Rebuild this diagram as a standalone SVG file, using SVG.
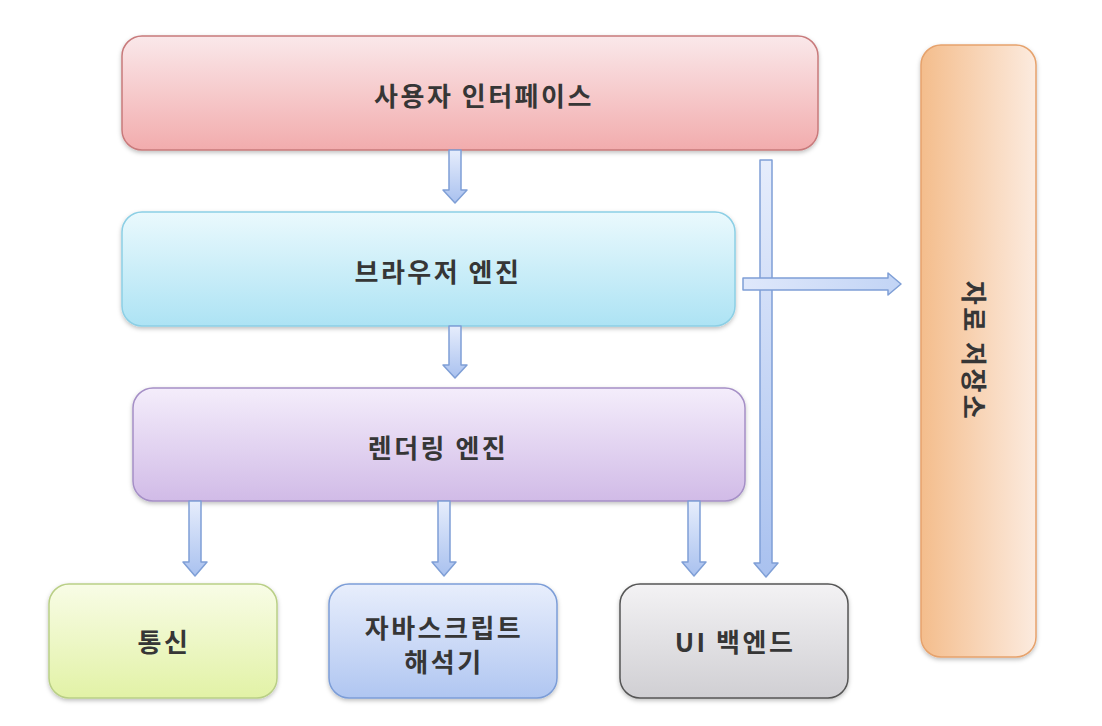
<svg xmlns="http://www.w3.org/2000/svg" width="1102" height="726" viewBox="0 0 1102 726">
<defs>
<linearGradient id="gRed" x1="0" y1="0" x2="0" y2="1"><stop offset="0" stop-color="#fae8ea"/><stop offset="1" stop-color="#f2acad"/></linearGradient>
<linearGradient id="gCyan" x1="0" y1="0" x2="0" y2="1"><stop offset="0" stop-color="#eaf9fd"/><stop offset="1" stop-color="#ade3f4"/></linearGradient>
<linearGradient id="gPurple" x1="0" y1="0" x2="0" y2="1"><stop offset="0" stop-color="#f4edfb"/><stop offset="1" stop-color="#d1bbe7"/></linearGradient>
<linearGradient id="gGreen" x1="0" y1="0" x2="0" y2="1"><stop offset="0" stop-color="#f8fce6"/><stop offset="1" stop-color="#e2f2a6"/></linearGradient>
<linearGradient id="gBlue" x1="0" y1="0" x2="0" y2="1"><stop offset="0" stop-color="#e8eefc"/><stop offset="1" stop-color="#b0c6f1"/></linearGradient>
<linearGradient id="gGray" x1="0" y1="0" x2="0" y2="1"><stop offset="0" stop-color="#f3f2f4"/><stop offset="1" stop-color="#d0cfd3"/></linearGradient>
<linearGradient id="gOrange" x1="0" y1="0" x2="1" y2="0"><stop offset="0" stop-color="#f4bd8c"/><stop offset="1" stop-color="#fcebdf"/></linearGradient>
<linearGradient id="gArrowV" x1="0" y1="0" x2="0" y2="1"><stop offset="0" stop-color="#e6edfc"/><stop offset="1" stop-color="#a9c1ef"/></linearGradient>
<linearGradient id="gArrowH" x1="0" y1="0" x2="1" y2="0"><stop offset="0" stop-color="#dfe8fb"/><stop offset="1" stop-color="#c2d4f5"/></linearGradient>
<filter id="sh" x="-5%" y="-10%" width="110%" height="125%"><feDropShadow dx="0" dy="2" stdDeviation="2" flood-color="#000" flood-opacity="0.25"/></filter>
</defs>
<style>
.lbl{font-family:"Noto Sans CJK KR","Noto Sans",sans-serif;font-size:26px;font-weight:600;letter-spacing:2.5px;fill:#363636;text-anchor:middle;dominant-baseline:central}
.arr{stroke:#7f9fd6;stroke-width:1.5;stroke-linejoin:round}
</style>
<rect width="1102" height="726" fill="#ffffff"/>

<g id="ui">
<rect x="122" y="36" width="696" height="114" rx="20" fill="url(#gRed)" stroke="#c87a7b" stroke-width="1.5" filter="url(#sh)"/>
<text class="lbl" x="484" y="94">사용자 인터페이스</text>
</g>
<g id="browser-engine">
<rect x="122" y="212" width="613" height="114" rx="20" fill="url(#gCyan)" stroke="#8ccfe5" stroke-width="1.5" filter="url(#sh)"/>
<text class="lbl" x="438" y="270">브라우저 엔진</text>
</g>
<g id="rendering-engine">
<rect x="133" y="388" width="612" height="113" rx="20" fill="url(#gPurple)" stroke="#a58fc6" stroke-width="1.5" filter="url(#sh)"/>
<text class="lbl" x="438" y="446">렌더링 엔진</text>
</g>
<g id="network">
<rect x="49" y="584" width="228" height="114" rx="20" fill="url(#gGreen)" stroke="#b9cf86" stroke-width="1.5" filter="url(#sh)"/>
<text class="lbl" x="164" y="640">통신</text>
</g>
<g id="js">
<rect x="329" y="584" width="228" height="114" rx="20" fill="url(#gBlue)" stroke="#7c9dd7" stroke-width="1.5" filter="url(#sh)"/>
<text class="lbl" x="444" y="626">자바스크립트</text>
<text class="lbl" x="444" y="660">해석기</text>
</g>
<g id="ui-backend">
<rect x="620" y="584" width="228" height="114" rx="20" fill="url(#gGray)" stroke="#555555" stroke-width="1.5" filter="url(#sh)"/>
<text class="lbl" x="735" y="640">UI 백엔드</text>
</g>
<g id="storage">
<rect x="921" y="45" width="115" height="612" rx="20" fill="url(#gOrange)" stroke="#e6a26c" stroke-width="1.5" filter="url(#sh)"/>
<text class="lbl" x="0" y="0" transform="translate(975 351) rotate(90)">자료 저장소</text>
</g>

<g id="connectors">
<polygon class="arr" fill="url(#gArrowV)" points="449,150 461,150 461,190 467,190 455,203 443,190 449,190"/>
<polygon class="arr" fill="url(#gArrowV)" points="449,326 461,326 461,365 467,365 455,378 443,365 449,365"/>
<polygon class="arr" fill="url(#gArrowV)" points="189,501 201,501 201,562 207,562 195,576 183,562 189,562"/>
<polygon class="arr" fill="url(#gArrowV)" points="438,501 450,501 450,562 456,562 444,576 432,562 438,562"/>
<polygon class="arr" fill="url(#gArrowV)" points="688,501 700,501 700,562 706,562 694,576 682,562 688,562"/>
<polygon class="arr" fill="url(#gArrowV)" points="760,160 772,160 772,563 778,563 766,577 754,563 760,563"/>
<polygon class="arr" fill="url(#gArrowH)" points="743,278 888,278 888,273 901,284 888,295 888,290 743,290"/>
</g>
</svg>
